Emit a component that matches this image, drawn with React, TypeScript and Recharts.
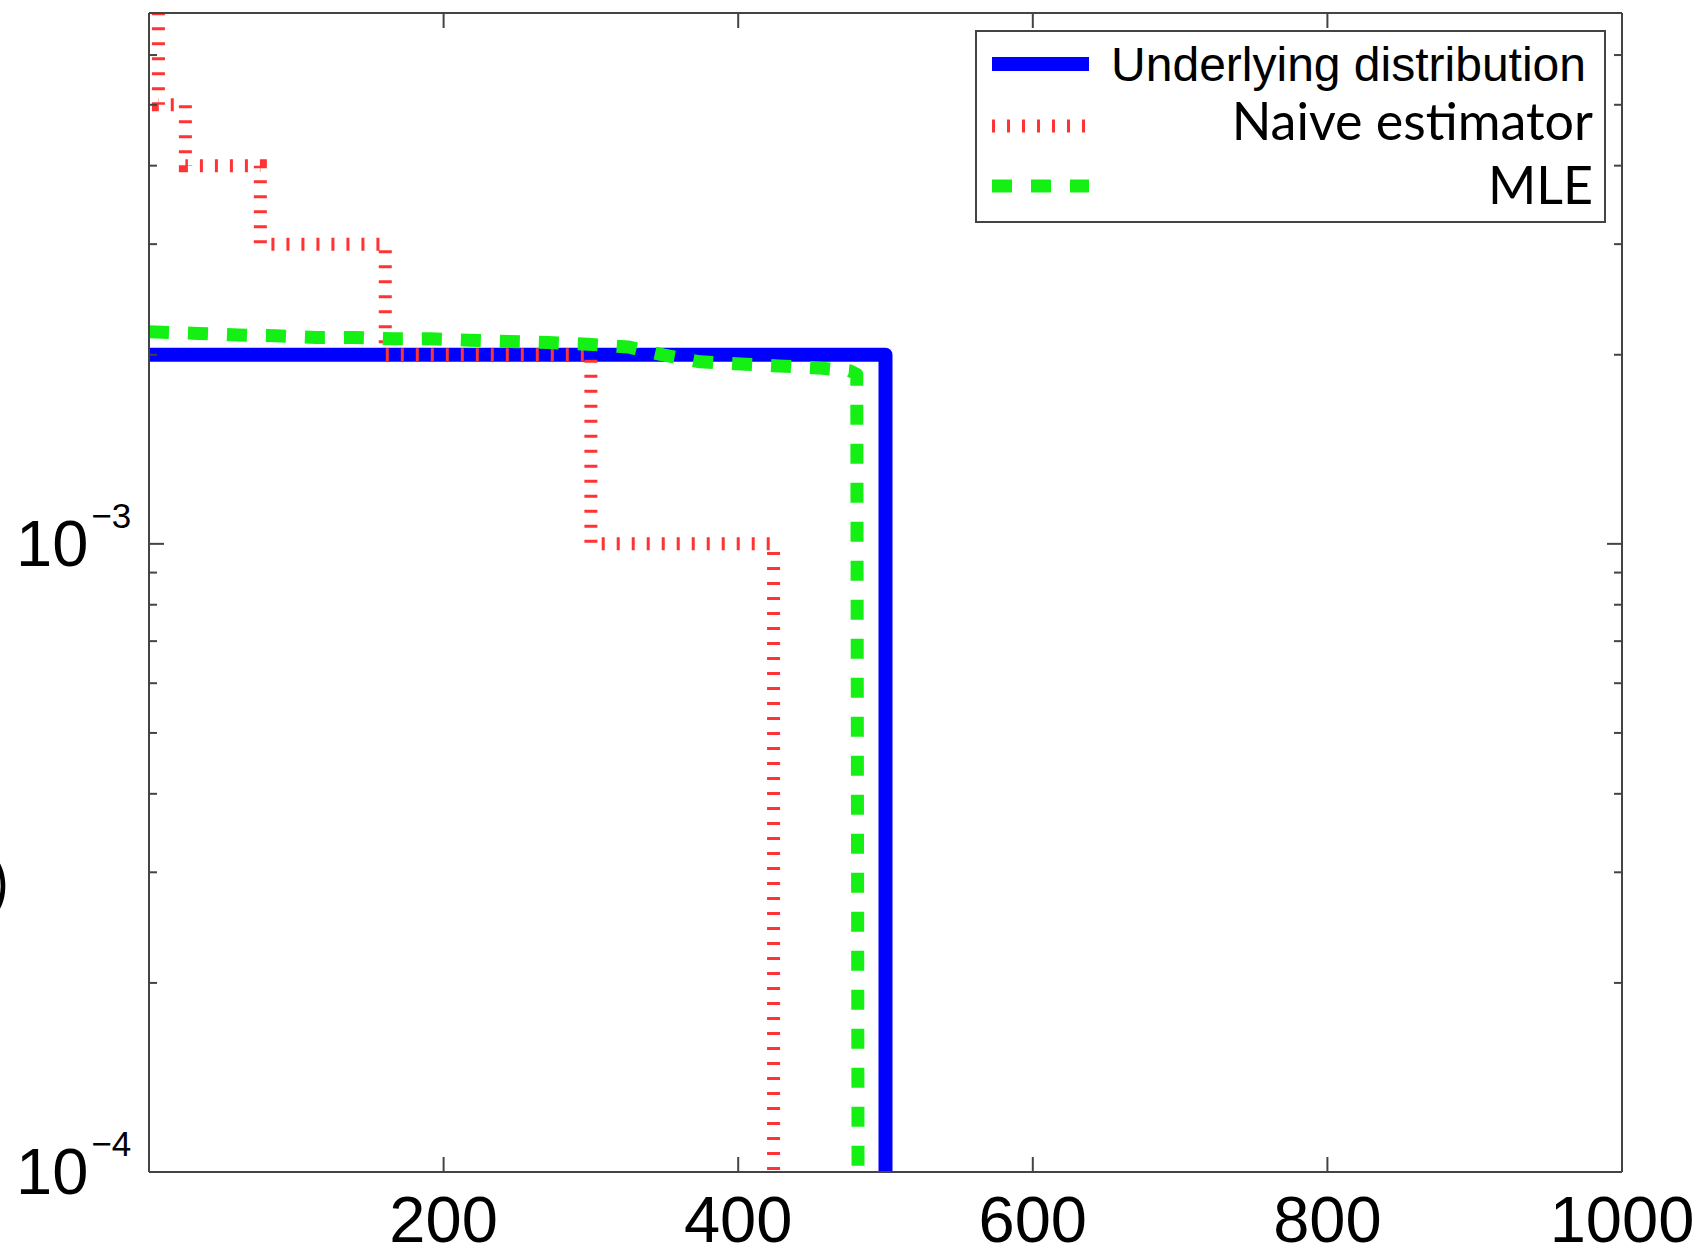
import { LineChart, Line, XAxis, YAxis, Legend } from 'recharts'

// x ticks (bottom + mirrored on top)
const xTicks = [200, 400, 600, 800, 1000]

// log y ticks, only decades get a label
const yTicks = [
  0.0001, 0.0002, 0.0003, 0.0004, 0.0005, 0.0006, 0.0007, 0.0008, 0.0009,
  0.001, 0.002, 0.003, 0.004, 0.005, 0.006, 0.007,
]
const yMajor = [0.0001, 0.001]

// tiny value standing in for zero on the log axis (clipped away below 1e-4)
const FLOOR = 1e-6

// underlying distribution: uniform over 500 symbols
const trueX = [0, 500]
const trueP = [0.002, FLOOR]

// naive (empirical) estimator, drawn as a staircase
const naiveX = [0, 6.4, 24.7, 75.6, 160.4, 300, 424]
const naiveP = [0.008, 0.005, 0.004, 0.003, 0.002, 0.001, FLOOR]

// MLE curve
const mleX = [0, 33.5, 60.7, 86.5, 113.6, 140, 166.5, 191, 217.4, 244.6, 271, 298, 325.3, 349, 374, 401.4, 427, 453.6, 476, 480.5, 482.7]
const mleP = [
  0.002176, 0.002163, 0.00215, 0.002144, 0.002131, 0.002131, 0.00212, 0.00212, 0.00211, 0.002099,
  0.002091, 0.002079, 0.002058, 0.001999, 0.001949, 0.001934, 0.00192, 0.001906, 0.001885, 0.00186, FLOOR,
]

const seriesNames = ['Underlying distribution', 'Naive estimator', 'MLE']

const AXIS = '#444'
const BLUE = '#0000ff'
const RED = '#ff3333'
const GREEN = '#14f014'
const HELV = '"Liberation Sans", Arial, Helvetica, sans-serif'
const GILL = 'Lato, "Open Sans", sans-serif'

const toRows = (xs: number[], ps: number[]) => xs.map((x, i) => ({ x, p: ps[i] }))

const trueData = toRows(trueX, trueP)
const naiveData = toRows(naiveX, naiveP)
const mleData = toRows(mleX, mleP)

function LeftTick(props: any) {
  const { x, y, payload } = props
  const major = yMajor.includes(payload.value)
  const exp = Math.round(Math.log10(payload.value))
  return (
    <g>
      <line x1={x} x2={x + (major ? 15 : 8)} y1={y} y2={y} stroke={AXIS} strokeWidth={2} />
      {major && (
        <text x={x - 133} y={y + 22} fontFamily={HELV} fontSize={65} fill="#000">
          10
          <tspan dx={3} dy={-38} fontSize={35}>
            {'\u2212' + Math.abs(exp)}
          </tspan>
        </text>
      )}
    </g>
  )
}

function RightTick(props: any) {
  const { x, y, payload } = props
  const major = yMajor.includes(payload.value)
  return <line x1={x} x2={x - (major ? 15 : 8)} y1={y} y2={y} stroke={AXIS} strokeWidth={2} />
}

function BottomTick(props: any) {
  const { x, y, payload } = props
  return (
    <g>
      <line x1={x} x2={x} y1={y} y2={y - 15} stroke={AXIS} strokeWidth={2} />
      <text x={x} y={y + 70} textAnchor="middle" fontFamily={HELV} fontSize={65} fill="#000">
        {payload.value}
      </text>
    </g>
  )
}

function TopTick(props: any) {
  const { x, y } = props
  return <line x1={x} x2={x} y1={y} y2={y + 15} stroke={AXIS} strokeWidth={2} />
}

function LegendBox() {
  const rows = [
    { color: BLUE, width: 14, dash: undefined, font: HELV, size: 48, end: 611, base: 51, ly: 34 },
    { color: RED, width: 13, dash: '3 12', font: GILL, size: 52, end: 618, base: 110, ly: 96 },
    { color: GREEN, width: 13, dash: '20 19', font: GILL, size: 52, end: 618, base: 174, ly: 156 },
  ]
  return (
    <svg width={632} height={194}>
      <rect x={1} y={1} width={629} height={191} fill="#fff" stroke={AXIS} strokeWidth={2} />
      {rows.map((r, i) => (
        <g key={seriesNames[i]}>
          <line x1={17} x2={114} y1={r.ly} y2={r.ly} stroke={r.color} strokeWidth={r.width} strokeDasharray={r.dash} />
          <text x={r.end} y={r.base} textAnchor="end" fontFamily={r.font} fontSize={r.size} fill="#000">
            {seriesNames[i]}
          </text>
        </g>
      ))}
    </svg>
  )
}

export default function App() {
  return (
    <div style={{ position: 'absolute', left: 0, top: 0, background: '#fff' }}>
      <LineChart width={1703} height={1246} margin={{ top: 12, right: 80, bottom: 73, left: 148 }}>
        <XAxis
          xAxisId={0}
          dataKey="x"
          type="number"
          domain={[0, 1000]}
          allowDataOverflow
          ticks={xTicks}
          interval={0}
          height={1}
          tickSize={0}
          tickMargin={0}
          tickLine={false}
          axisLine={{ stroke: AXIS, strokeWidth: 2 }}
          tick={<BottomTick />}
        />
        <XAxis
          xAxisId="top"
          orientation="top"
          dataKey="x"
          type="number"
          domain={[0, 1000]}
          allowDataOverflow
          ticks={xTicks}
          interval={0}
          height={1}
          tickSize={0}
          tickMargin={0}
          tickLine={false}
          axisLine={{ stroke: AXIS, strokeWidth: 2 }}
          tick={<TopTick />}
        />
        <YAxis
          yAxisId={0}
          type="number"
          scale="log"
          domain={[0.0001, 0.007]}
          allowDataOverflow
          ticks={yTicks}
          interval={0}
          width={1}
          tickSize={0}
          tickMargin={0}
          tickLine={false}
          axisLine={{ stroke: AXIS, strokeWidth: 2 }}
          tick={<LeftTick />}
        />
        <YAxis
          yAxisId="right"
          orientation="right"
          type="number"
          scale="log"
          domain={[0.0001, 0.007]}
          allowDataOverflow
          ticks={yTicks}
          interval={0}
          width={1}
          tickSize={0}
          tickMargin={0}
          tickLine={false}
          axisLine={{ stroke: AXIS, strokeWidth: 2 }}
          tick={<RightTick />}
        />
        <Line
          data={trueData}
          dataKey="p"
          name={seriesNames[0]}
          type="stepAfter"
          stroke={BLUE}
          strokeWidth={14}
          strokeLinejoin="round"
          dot={false}
          activeDot={false}
          isAnimationActive={false}
        />
        <Line
          data={naiveData}
          dataKey="p"
          name={seriesNames[1]}
          type="stepAfter"
          stroke={RED}
          strokeWidth={13}
          strokeDasharray="3 12"
          dot={false}
          activeDot={false}
          isAnimationActive={false}
        />
        <Line
          data={mleData}
          dataKey="p"
          name={seriesNames[2]}
          type="linear"
          stroke={GREEN}
          strokeWidth={13}
          strokeDasharray="20 19"
          strokeLinejoin="round"
          dot={false}
          activeDot={false}
          isAnimationActive={false}
        />
        <Legend
          layout="vertical"
          align="center"
          verticalAlign="middle"
          width={632}
          height={194}
          wrapperStyle={{ left: 975, top: 30, width: 632, height: 194 }}
          content={() => <LegendBox />}
        />
        <text x={8} y={905} textAnchor="end" fontFamily={GILL} fontSize={60} fill="#000">
          )
        </text>
      </LineChart>
    </div>
  )
}
